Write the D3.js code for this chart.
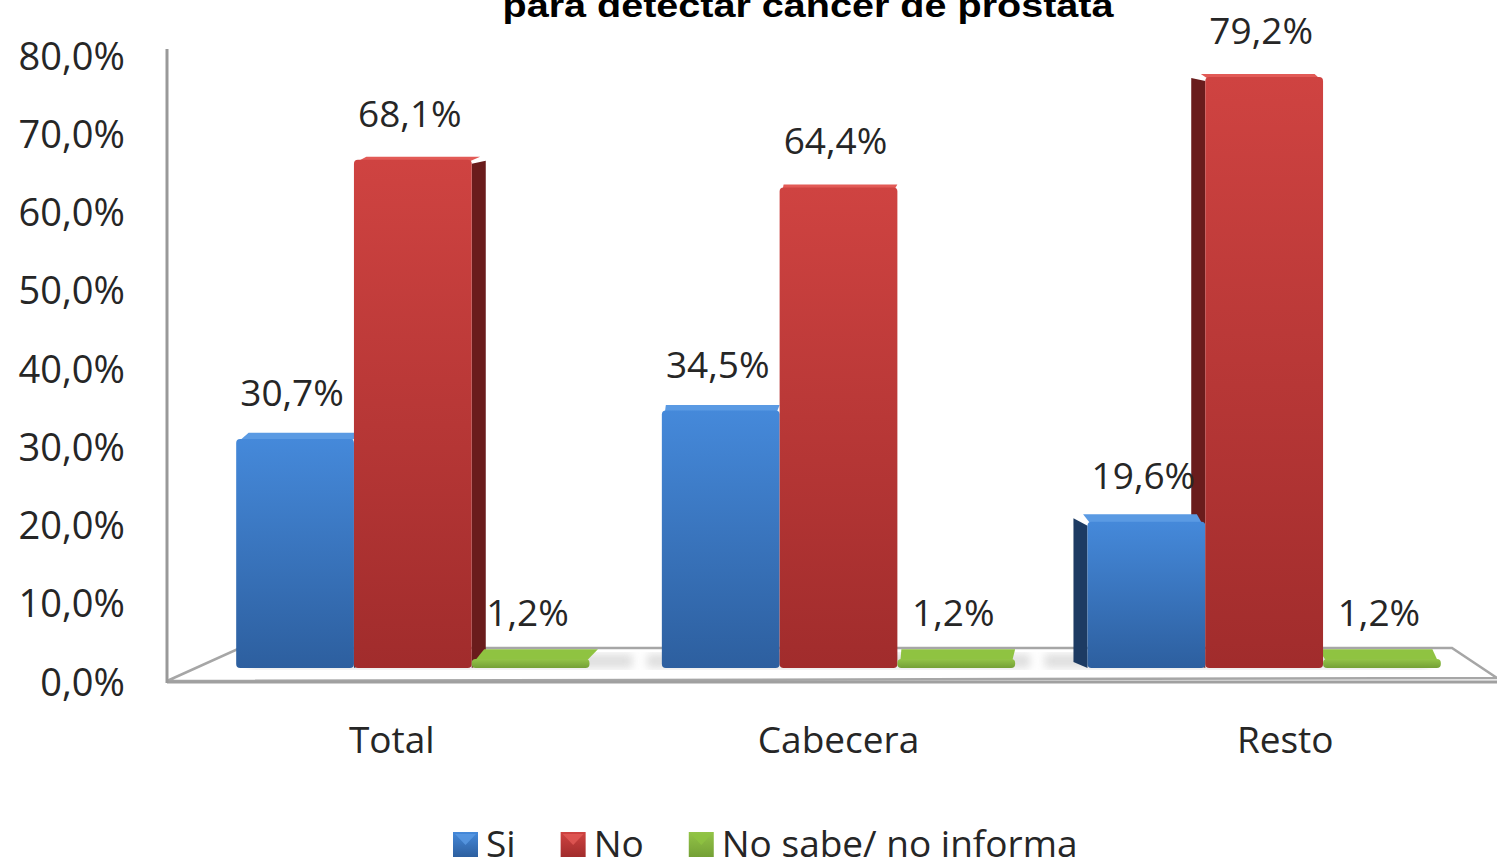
<!DOCTYPE html>
<html>
<head>
<meta charset="utf-8">
<script src="https://cdn.jsdelivr.net/npm/d3@7"></script>
<style>
	body { margin: 0; background: #fff; }
	text { font-family: "Open Sans", "Noto Sans", sans-serif; fill: #262626; }
	.title { font-family: "Liberation Sans Narrow", "Liberation Sans", sans-serif; font-weight: bold; fill: #000; }
</style>
</head>
<body>
<script>
var categories = ["Total", "Cabecera", "Resto"];
var seriesNames = ["Si", "No", "No sabe/ no informa"];
var siValues = [30.7, 34.5, 19.6];
var noValues = [68.1, 64.4, 79.2];
var nsValues = [1.2, 1.2, 1.2];
var yTicks = [0, 10, 20, 30, 40, 50, 60, 70, 80];
var titleText = "para detectar cáncer de próstata";

var width = 1497, height = 864;

var colors = [
	{top: "#4589da", bottom: "#2d5f9f", side: "#1d3b63", lid: "#5a9ae3"},
	{top: "#cf4341", bottom: "#a12c2c", side: "#6a1c1c", lid: "#e25a56"},
	{top: "#93c447", bottom: "#74a036", side: "#56782a", lid: "#8fc341"}
];

var rows = categories.map(function (c, i) {
	return {cat: c, values: [siValues[i], noValues[i], nsValues[i]]};
});

var es = d3.formatLocale({decimal: ",", thousands: ".", grouping: [3], currency: ["", "€"]});
var fmt = es.format(".1f");

var svg = d3.select("body").append("svg")
	.attr("width", width)
	.attr("height", height);

// scales: the axis and the bars sit on slightly different planes (3D look)
var x0 = d3.scaleBand().domain(categories).range([200, 1477]).paddingInner(0.17).paddingOuter(0.085);
var x1 = d3.scaleBand().domain(d3.range(seriesNames.length)).range([0, x0.bandwidth()]);
var yAxis = d3.scaleLinear().domain([0, 80]).range([683, 57]);
var yBar = d3.scaleLinear().domain([0, 80]).range([668, 71]);

var vanishX = x0("Cabecera") + x0.bandwidth() / 2;
function sideDx(cat) { return (vanishX - (x0(cat) + x0.bandwidth() / 2)) * 0.033; }
function lidDepth(v) { return Math.max(3, (yBar(v) - 80) * 0.017); }

var defs = svg.append("defs");
colors.forEach(function (c, i) {
	var g = defs.append("linearGradient")
		.attr("id", "grad-" + i)
		.attr("x1", "0%").attr("y1", "0%").attr("x2", "0%").attr("y2", "100%");
	g.append("stop").attr("offset", "0%").attr("stop-color", c.top);
	g.append("stop").attr("offset", "100%").attr("stop-color", c.bottom);
});
defs.append("filter").attr("id", "blur")
	.append("feGaussianBlur").attr("stdDeviation", 4);

// title (second line only is in view)
svg.append("text")
	.attr("class", "title")
	.attr("x", 808)
	.attr("y", 17)
	.attr("text-anchor", "middle")
	.attr("font-size", 33)
	.attr("textLength", 611)
	.attr("lengthAdjust", "spacingAndGlyphs")
	.text(titleText);

// floor
var floorBack = 648, floorFront = yAxis(0) - 2;
svg.append("path")
	.attr("d", "M167," + floorFront + " L240," + floorBack + " L1452," + floorBack + " L1497," + (floorFront - 3) + " Z")
	.attr("fill", "#fff")
	.attr("stroke", "#a6a6a6")
	.attr("stroke-width", 2.5);
svg.append("line")
	.attr("x1", 167).attr("x2", width)
	.attr("y1", floorFront + 1).attr("y2", floorFront + 1)
	.attr("stroke", "#a0a0a0")
	.attr("stroke-width", 3);

// soft shadows under the groups
svg.append("g").selectAll("rect")
	.data(rows)
	.enter().append("rect")
	.attr("x", function (d) { return x0(d.cat) - 15 + sideDx(d.cat) * 2; })
	.attr("y", floorBack + 6)
	.attr("width", x0.bandwidth() + 30)
	.attr("height", yBar(0) - floorBack - 6)
	.attr("fill", "#c4c4c4")
	.attr("opacity", 0.55)
	.attr("filter", "url(#blur)");

// y axis
svg.append("line")
	.attr("x1", 167).attr("x2", 167)
	.attr("y1", yAxis(80) - 8).attr("y2", yAxis(0))
	.attr("stroke", "#999")
	.attr("stroke-width", 3);

svg.append("g")
	.attr("transform", "translate(167,0)")
	.call(d3.axisLeft(yAxis)
		.tickValues(yTicks)
		.tickSize(0)
		.tickPadding(42)
		.tickFormat(function (d) { return fmt(d) + "%"; }))
	.call(function (g) { g.select(".domain").remove(); })
	.selectAll("text")
	.attr("font-size", 38)
	.attr("fill", "#262626");

// bars
var bars = [];
rows.forEach(function (r) {
	r.values.forEach(function (v, i) {
		bars.push({cat: r.cat, s: i, v: v, x: x0(r.cat) + x1(i), w: x1.bandwidth(), dx: sideDx(r.cat)});
	});
});

var gBars = svg.append("g");

// side faces first, fronts cover them where bars touch
gBars.selectAll("path.side")
	.data(bars.filter(function (d) { return Math.abs(d.dx) > 1 && d.s < 2; }))
	.enter().append("path")
	.attr("class", "side")
	.attr("fill", function (d) { return colors[d.s].side; })
	.attr("d", function (d) {
		var top = yBar(d.v), base = yBar(0), lid = lidDepth(d.v);
		var ex = d.dx > 0 ? d.x + d.w : d.x;
		return "M" + ex + "," + (top + 4) + " L" + (ex + d.dx) + "," + (top - lid + 4) +
			" L" + (ex + d.dx) + "," + (base - 6) + " L" + ex + "," + base + " Z";
	});

// lids (tops) seen from above
gBars.selectAll("path.lid")
	.data(bars)
	.enter().append("path")
	.attr("class", "lid")
	.attr("fill", function (d) { return colors[d.s].lid; })
	.attr("d", function (d) {
		var top = yBar(d.v), lid = lidDepth(d.v);
		return "M" + (d.x + 3) + "," + (top + 2) + " L" + (d.x + d.w - 3) + "," + (top + 2) +
			" L" + (d.x + d.w + d.dx * 0.6) + "," + (top - lid) + " L" + (d.x + d.dx * 0.6 + 4) + "," + (top - lid) + " Z";
	});

gBars.selectAll("rect.front")
	.data(bars)
	.enter().append("rect")
	.attr("class", "front")
	.attr("x", function (d) { return d.x; })
	.attr("y", function (d) { return yBar(d.v); })
	.attr("width", function (d) { return d.w; })
	.attr("height", function (d) { return yBar(0) - yBar(d.v); })
	.attr("rx", 4)
	.attr("fill", function (d) { return "url(#grad-" + d.s + ")"; });

// data labels
svg.append("g").selectAll("text")
	.data(bars)
	.enter().append("text")
	.attr("x", function (d) { return d.x + d.w / 2 - 3; })
	.attr("y", function (d) { return yBar(d.v) - 33; })
	.attr("text-anchor", "middle")
	.attr("font-size", 37)
	.text(function (d) { return fmt(d.v) + "%"; });

// category labels
svg.append("g").selectAll("text")
	.data(categories)
	.enter().append("text")
	.attr("x", function (d) { return x0(d) + x0.bandwidth() / 2 - sideDx(d) * 1.5; })
	.attr("y", 753)
	.attr("text-anchor", "middle")
	.attr("font-size", 37)
	.text(function (d) { return d; });

// legend
var legend = svg.append("g").attr("transform", "translate(453,0)");
var lx = 0;
seriesNames.forEach(function (name, i) {
	var item = legend.append("g").attr("transform", "translate(" + lx + ",0)");
	item.append("rect")
		.attr("x", 0).attr("y", 832)
		.attr("width", 25).attr("height", 25)
		.attr("fill", "url(#grad-" + i + ")");
	item.append("path")
		.attr("d", "M2,834 L23,834 L12.5,845 Z")
		.attr("fill", colors[i].lid)
		.attr("opacity", 0.8);
	var t = item.append("text")
		.attr("x", 33).attr("y", 857)
		.attr("font-size", 37)
		.text(name);
	lx += 33 + t.node().getComputedTextLength() + 45;
});
</script>
</body>
</html>
